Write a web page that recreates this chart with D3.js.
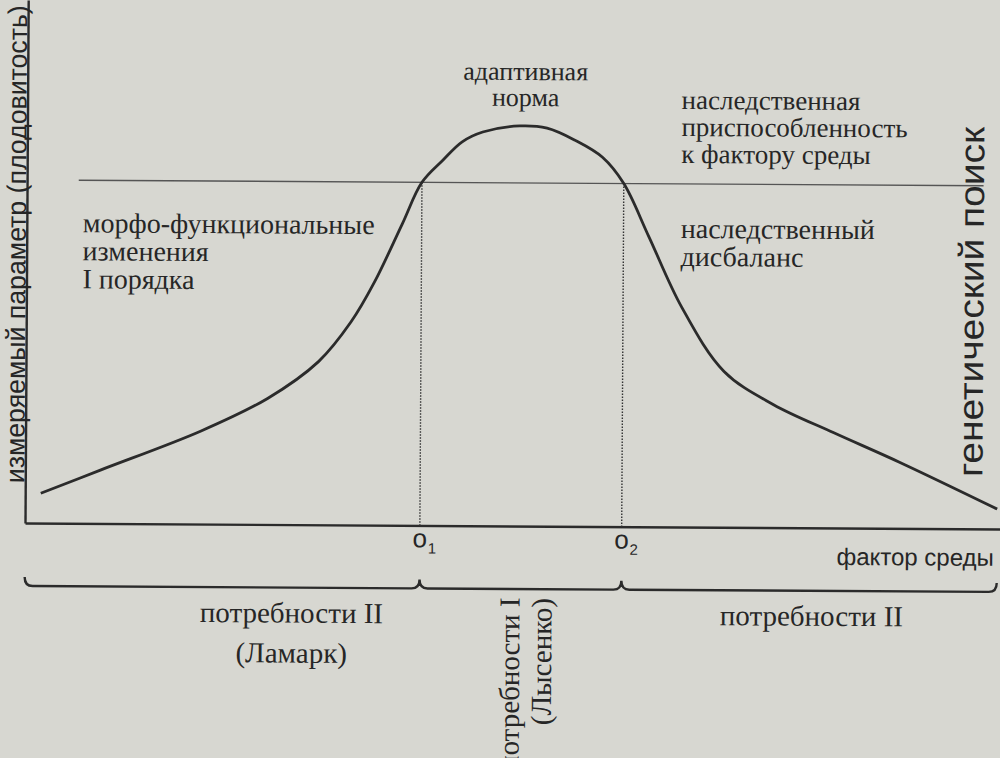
<!DOCTYPE html>
<html><head><meta charset="utf-8">
<script src="https://cdn.jsdelivr.net/npm/d3@7"></script>
<style>
body{margin:0;background:#d7d7d1;}
.serif{font-family:"Liberation Serif","Times New Roman",serif;fill:#262626;}
.sans{font-family:"Liberation Sans",Arial,sans-serif;fill:#262626;}
</style></head>
<body>
<script>
// Curve: factor (0..100) vs measured parameter (0..100)
const curveX = [1.6, 7.7, 18.0, 24.8, 30.0, 33.3, 35.7, 38.5, 40.5, 42.6, 44.6, 46.7, 50.5, 53.3, 56.2, 59.0, 61.2, 63.8, 67.2, 71.6, 76.7, 82.9, 89.7, 99.7];
const curveY = [5.7, 10.2, 17.8, 24.1, 31.2, 38.8, 46.5, 57.6, 65.6, 69.8, 73.4, 75.3, 76.5, 76.1, 73.8, 70.6, 65.6, 55.5, 42.1, 29.8, 23.5, 18.2, 12.6, 3.8];
const optimumX = [40.5, 61.2];           // o1, o2
const optimumLabels = ["1", "2"];
const normLevel = 65.6;                  // horizontal reference line
const normLineX = [5.3, 98.1];
const braceBounds = [0, 40.5, 61.2, 99.7];
const regionLabels = ["потребности II", "потребности I", "потребности II"];

const W = 1000, H = 758;
const svg = d3.select("body").append("svg").attr("width", W).attr("height", H);
svg.append("rect").attr("width", W).attr("height", H).attr("fill", "#d7d7d1");

const x = d3.scaleLinear().domain([0, 100]).range([25, 1000]);
const y = d3.scaleLinear().domain([0, 100]).range([523, 0]);

const g = svg.append("g").attr("transform", "rotate(0.35,25,523)");
const ink = "#2b2b2b";

// axes
g.append("g").attr("transform", `translate(${x(0)},0)`)
  .call(d3.axisLeft(y).tickValues([]).tickSizeOuter(0));
g.append("g").attr("transform", `translate(0,${y(0)})`)
  .call(d3.axisBottom(x).tickValues([]).tickSizeOuter(0));
g.selectAll(".domain").attr("stroke", ink).attr("stroke-width", 2.4);

// reference line
g.append("line").attr("x1", x(normLineX[0])).attr("x2", x(normLineX[1]))
  .attr("y1", y(normLevel)).attr("y2", y(normLevel))
  .attr("stroke", "#555").attr("stroke-width", 1.4);

// dotted verticals
g.selectAll(".drop").data(optimumX).join("line")
  .attr("x1", d => x(d)).attr("x2", d => x(d))
  .attr("y1", y(normLevel)).attr("y2", y(0))
  .attr("stroke", "#333").attr("stroke-width", 1.4).attr("stroke-dasharray", "1.5,1.5");

// curve
const pts = curveX.map((v, i) => [v, curveY[i]]);
g.append("path").datum(pts)
  .attr("d", d3.line().x(d => x(d[0])).y(d => y(d[1])).curve(d3.curveCatmullRom.alpha(0.5)))
  .attr("fill", "none").attr("stroke", ink).attr("stroke-width", 2.8);

// o labels
optimumX.forEach((v, i) => {
  g.append("text").attr("class", "sans").attr("x", x(v)).attr("y", 545)
    .attr("text-anchor", "middle").attr("font-size", 26).text("o");
  g.append("text").attr("class", "sans").attr("x", x(v) + 8).attr("y", 551)
    .attr("font-size", 15).text(optimumLabels[i]);
});
g.append("text").attr("class", "sans").attr("x", 994).attr("y", 560)
  .attr("text-anchor", "end").attr("font-size", 24).text("фактор среды");

// brace
const by = 586, bh = 9, r = 8;
const bx = braceBounds.map(x);
let p = `M${bx[0]},${by - bh} Q${bx[0]},${by} ${bx[0] + r},${by}`;
for (let i = 1; i < bx.length - 1; i++) {
  p += ` L${bx[i] - r},${by} Q${bx[i]},${by} ${bx[i]},${by - bh} Q${bx[i]},${by} ${bx[i] + r},${by}`;
}
p += ` L${bx[bx.length - 1] - r},${by} Q${bx[bx.length - 1]},${by} ${bx[bx.length - 1]},${by - bh}`;
g.append("path").attr("d", p).attr("fill", "none").attr("stroke", ink).attr("stroke-width", 2.4);

// axis titles
g.append("text").attr("class", "sans").attr("font-size", 27)
  .attr("transform", `translate(24,${y(7.6)}) rotate(-90)`)
  .attr("textLength", 478).attr("lengthAdjust", "spacingAndGlyphs")
  .text("измеряемый параметр (плодовитость)");
g.append("text").attr("class", "sans").attr("font-size", 35)
  .attr("transform", `translate(982,${y(9.9)}) rotate(-90)`)
  .attr("textLength", 350).attr("lengthAdjust", "spacingAndGlyphs")
  .text("генетический поиск");

// annotations
function lines(xp, yp, arr, anchor, size, lh) {
  const t = g.append("text").attr("class", "serif").attr("font-size", size).attr("text-anchor", anchor);
  arr.forEach((s, i) => t.append("tspan").attr("x", xp).attr("y", yp + i * lh).text(s));
}
lines(523, 77, ["адаптивная", "норма"], "middle", 26, 26);
lines(679, 105, ["наследственная", "приспособленность", "к фактору среды"], "start", 27, 27);
lines(679, 234, ["наследственный", "дисбаланс"], "start", 28, 28);
lines(81, 232, ["морфо-функциональные", "изменения", "I порядка"], "start", 28, 28);

// region labels
lines(292, 621, [regionLabels[0], "(Ламарк)"], "middle", 29, 40);
lines(812, 621, [regionLabels[2]], "middle", 29, 40);
g.append("text").attr("class", "serif").attr("font-size", 29)
  .attr("transform", `translate(520,768) rotate(-90)`).text(regionLabels[1]);
g.append("text").attr("class", "serif").attr("font-size", 29)
  .attr("transform", `translate(552,722) rotate(-90)`).text("(Лысенко)");
</script>
</body></html>
